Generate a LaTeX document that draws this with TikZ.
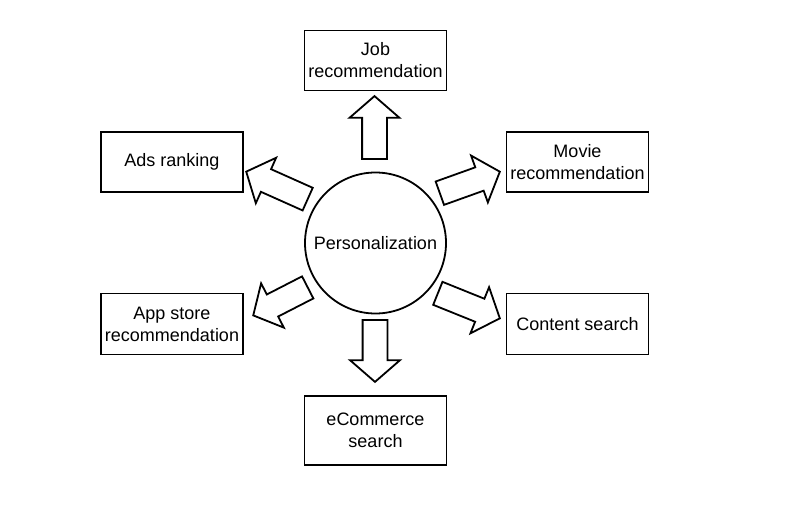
\documentclass[tikz,border=0pt]{standalone}
\usepackage{fontspec}
\setmainfont{Liberation Sans}
\usetikzlibrary{positioning, shapes.arrows, calc}

% block arrow from #1 (tail) to #2 (tip)
\newcommand{\blockarrow}[2]{%
  \path let \p1 = ($(#2)-(#1)$), \n1 = {atan2(\y1,\x1)}, \n2 = {veclen(\x1,\y1)} in
    node[bigarrow, minimum height=\n2, rotate=\n1, anchor=tail] at (#1) {};}

\begin{document}
\begin{tikzpicture}[
			x=1pt, y=1pt,
			on grid,
			box/.style={
				draw,
				rectangle,
				line width=1.8pt,
				minimum width=142pt,
				minimum height=60pt,
				align=center,
				font=\fontsize{18}{22}\selectfont
			},
			hub/.style={
				draw,
				circle,
				line width=1.8pt,
				minimum size=141pt,
				font=\fontsize{18}{22}\selectfont
			},
			bigarrow/.style={
				draw,
				single arrow,
				line width=1.8pt,
				inner xsep=0pt,
				inner ysep=11.5pt,
				single arrow head extend=12.5pt,
				single arrow tip angle=98
			}
			]
			\useasboundingbox (0,0) rectangle (800,515);
			
			% Hub and targets
			\node[hub] (pers) at (375.5,272) {Personalization};
			\node[box] (job) [above=182.5pt of pers] {Job\\recommendation};
			\node[box, minimum height=69pt] (ecom) [below=187.5pt of pers] {eCommerce\\search};
			\node[box] (ads) [above left=81pt and 203.5pt of pers] {Ads ranking};
			\node[box] (movie) [above right=81pt and 202pt of pers] {Movie\\recommendation};
			\node[box, minimum height=61pt] (app) [below left=81pt and 203.5pt of pers] {App store\\recommendation};
			\node[box, minimum height=61pt] (content) [below right=81pt and 202pt of pers] {Content search};
			
			% Arrow ends
			\coordinate (jobT) at ($(pers)+(-1,83)$);
			\coordinate (jobH) at ($(pers)+(-1,146)$);
			\coordinate (ecomT) at ($(pers)+(-0.5,-76)$);
			\coordinate (ecomH) at ($(pers)+(-0.5,-138)$);
			\coordinate (adsT) at ($(pers)+(-67,43.5)$);
			\coordinate (adsH) at ($(pers)+(-128.5,71)$);
			\coordinate (movieT) at ($(pers)+(63.5,49.5)$);
			\coordinate (movieH) at ($(pers)+(123.5,71)$);
			\coordinate (appT) at ($(pers)+(-67,-44)$);
			\coordinate (appH) at ($(pers)+(-121.5,-72)$);
			\coordinate (contentT) at ($(pers)+(61.5,-50)$);
			\coordinate (contentH) at ($(pers)+(123.5,-75)$);
			
			% Arrows
			\blockarrow{jobT}{jobH}
			\blockarrow{ecomT}{ecomH}
			\blockarrow{adsT}{adsH}
			\blockarrow{movieT}{movieH}
			\blockarrow{appT}{appH}
			\blockarrow{contentT}{contentH}
		\end{tikzpicture}
\end{document}
